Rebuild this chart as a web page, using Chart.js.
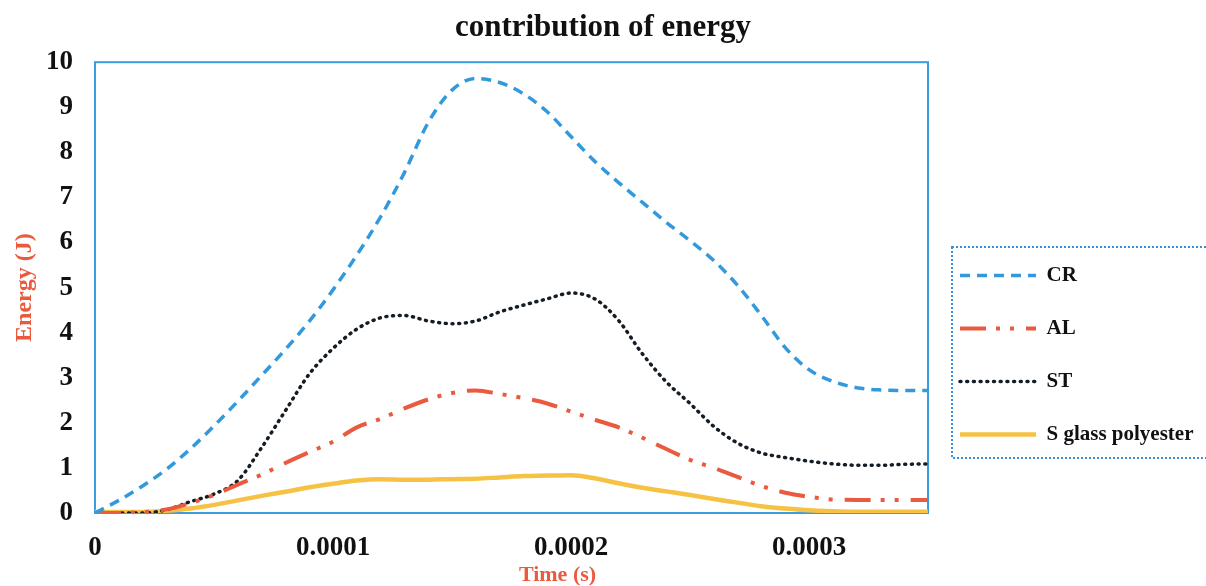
<!DOCTYPE html>
<html>
<head>
<meta charset="utf-8">
<script src="https://cdn.jsdelivr.net/npm/chart.js@4/dist/chart.umd.min.js"></script>
<style>
html,body{margin:0;padding:0;background:#ffffff;}
#wrap{width:1206px;height:586px;}
</style>
</head>
<body>
<div id="wrap"><canvas id="c" width="1206" height="586"></canvas></div>
<script>
// ---- data (time in seconds, energy in J) ----
const timeValues = [0, 0.00001, 0.00002, 0.00003, 0.00004, 0.00005, 0.00006, 0.00007, 0.00008, 0.00009,
  0.0001, 0.00011, 0.00012, 0.00013, 0.00014, 0.00015, 0.00016, 0.00017, 0.00018, 0.00019,
  0.0002, 0.00021, 0.00022, 0.00023, 0.00024, 0.00025, 0.00026, 0.00027, 0.00028, 0.00029,
  0.0003, 0.00031, 0.00032, 0.00033, 0.00034, 0.00035];
const crValues = [0, 0.28, 0.6, 0.97, 1.42, 1.93, 2.48, 3.05, 3.63, 4.25,
  4.95, 5.72, 6.57, 7.55, 8.66, 9.38, 9.64, 9.55, 9.3, 8.9,
  8.35, 7.8, 7.33, 6.89, 6.45, 6.04, 5.6, 5.05, 4.38, 3.67,
  3.18, 2.92, 2.78, 2.73, 2.72, 2.72];
const alValues = [0, 0, 0.02, 0.08, 0.22, 0.4, 0.63, 0.85, 1.11, 1.35,
  1.58, 1.9, 2.09, 2.32, 2.52, 2.66, 2.72, 2.64, 2.55, 2.43,
  2.25, 2.07, 1.9, 1.67, 1.42, 1.18, 1.0, 0.8, 0.6, 0.45,
  0.36, 0.3, 0.29, 0.29, 0.29, 0.29];
const stValues = [0, 0, 0, 0.07, 0.25, 0.42, 0.72, 1.45, 2.27, 3.08,
  3.65, 4.08, 4.33, 4.38, 4.26, 4.2, 4.26, 4.46, 4.61, 4.75,
  4.88, 4.75, 4.27, 3.53, 2.91, 2.43, 1.92, 1.55, 1.33, 1.23,
  1.15, 1.09, 1.06, 1.06, 1.08, 1.09];
const sgValues = [0.02, 0.02, 0.02, 0.05, 0.1, 0.18, 0.28, 0.38, 0.47, 0.57,
  0.65, 0.72, 0.75, 0.74, 0.74, 0.75, 0.76, 0.79, 0.82, 0.83,
  0.84, 0.77, 0.66, 0.56, 0.48, 0.4, 0.31, 0.23, 0.15, 0.1,
  0.06, 0.04, 0.03, 0.03, 0.03, 0.03];
const seriesNames = ['CR', 'AL', 'ST', 'S glass polyester'];
const xTickValues = [0, 0.0001, 0.0002, 0.0003];
const xTickLabels = ['0', '0.0001', '0.0002', '0.0003'];
const titleText = 'contribution of energy';
const xTitleText = 'Time (s)';
const yTitleText = 'Energy (J)';

// ---- styling ----
const SERIF = "'Liberation Serif', 'Times New Roman', serif";
const BLUE = '#3399dd';
const RED = '#ea5a3f';
const DARK = '#141c24';
const YELLOW = '#f6c244';
const FRAME = '#3b9ddd';

function pts(ys) { return ys.map((y, i) => ({ x: timeValues[i], y: y })); }

const layoutFix = {
  id: 'layoutFix',
  beforeLayout(chart) {
    const lg = chart.legend;
    if (lg && !lg.__fixed) {
      const orig = lg.fit.bind(lg);
      lg.fit = function () { orig(); this.width = 278; };
      lg.__fixed = true;
    }
  },
  afterLayout(chart) {
    const lg = chart.legend;
    if (lg) { lg.top += 62; lg.bottom += 62; }
    const sx = chart.scales.x;
    if (sx && !sx.__titleShift) {
      const origTitle = sx.drawTitle.bind(sx);
      sx.drawTitle = function () {
        const l = this.left, r = this.right;
        this.left = l + 46; this.right = r + 46;
        origTitle();
        this.left = l; this.right = r;
      };
      sx.__titleShift = true;
    }
  },
  beforeDatasetsDraw(chart) {
    const a = chart.chartArea, ctx = chart.ctx;
    ctx.save();
    ctx.strokeStyle = FRAME;
    ctx.lineWidth = 2;
    ctx.setLineDash([]);
    ctx.strokeRect(a.left, a.top, a.right - a.left, a.bottom - a.top);
    ctx.restore();
  },
  afterDraw(chart) {
    const ctx = chart.ctx;
    ctx.save();
    ctx.strokeStyle = '#3a8fd8';
    ctx.lineWidth = 2;
    ctx.setLineDash([2, 2]);
    ctx.strokeRect(952, 247, 280, 211);
    ctx.restore();
  }
};

new Chart(document.getElementById('c'), {
  type: 'line',
  data: {
    datasets: [
      { label: seriesNames[0], data: pts(crValues), borderColor: BLUE, backgroundColor: BLUE,
        borderWidth: 3.5, borderDash: [10, 7], pointRadius: 0, cubicInterpolationMode: 'monotone', fill: false },
      { label: seriesNames[1], data: pts(alValues), borderColor: RED, backgroundColor: RED,
        borderWidth: 4, borderDash: [26, 10, 4, 10, 4, 12], pointRadius: 0, cubicInterpolationMode: 'monotone', fill: false },
      { label: seriesNames[2], data: pts(stValues), borderColor: DARK, backgroundColor: DARK,
        borderWidth: 3.5, borderDash: [1, 5.7], borderCapStyle: 'round', pointRadius: 0, cubicInterpolationMode: 'monotone', fill: false },
      { label: seriesNames[3], data: pts(sgValues), borderColor: YELLOW, backgroundColor: YELLOW,
        borderWidth: 4.5, pointRadius: 0, cubicInterpolationMode: 'monotone', fill: false }
    ]
  },
  options: {
    responsive: false,
    animation: false,
    devicePixelRatio: 1,
    layout: { padding: 0 },
    plugins: {
      title: {
        display: true, text: titleText, color: '#111111',
        font: { family: SERIF, size: 31, weight: 'bold', lineHeight: 1.2 },
        padding: { top: 9, bottom: 16 }
      },
      legend: {
        display: true, position: 'right', align: 'center',
        labels: {
          usePointStyle: true, pointStyle: 'line', pointStyleWidth: 76,
          padding: 32, color: '#111111',
          font: { family: SERIF, size: 21, weight: 'bold' },
          generateLabels(chart) {
            const items = Chart.defaults.plugins.legend.labels.generateLabels(chart);
            items.forEach((it) => {
              const ds = chart.data.datasets[it.datasetIndex];
              it.lineDash = ds.borderDash || [];
              it.lineWidth = ds.borderWidth;
              it.strokeStyle = ds.borderColor;
              it.lineCap = ds.borderCapStyle || 'butt';
              it.pointStyle = 'line';
            });
            return items;
          }
        }
      },
      tooltip: { enabled: false }
    },
    scales: {
      x: {
        type: 'linear', min: 0, max: 0.00035,
        afterBuildTicks(scale) { scale.ticks = xTickValues.map(v => ({ value: v })); },
        afterFit(scale) { scale.height = 73; },
        grid: { display: false, drawTicks: false },
        border: { display: false },
        ticks: {
          padding: 19, color: '#111111', maxRotation: 0, autoSkip: false,
          font: { family: SERIF, size: 27, weight: 'bold' },
          callback(value, index) { return xTickLabels[index]; }
        },
        title: {
          display: true, text: xTitleText, color: RED,
          font: { family: SERIF, size: 22, weight: 'bold', lineHeight: 1.0 },
          padding: { top: 0, bottom: 0 }
        }
      },
      y: {
        type: 'linear', min: 0, max: 10,
        afterFit(scale) { scale.width = 95; },
        grid: { display: false, drawTicks: false },
        border: { display: false },
        ticks: {
          stepSize: 1, padding: 22, color: '#111111',
          font: { family: SERIF, size: 27, weight: 'bold' }
        },
        title: {
          display: true, text: yTitleText, color: RED,
          font: { family: SERIF, size: 24, weight: 'bold', lineHeight: 1.2 },
          padding: { top: 10, bottom: 0 }
        }
      }
    }
  },
  plugins: [layoutFix]
});
</script>
</body>
</html>
